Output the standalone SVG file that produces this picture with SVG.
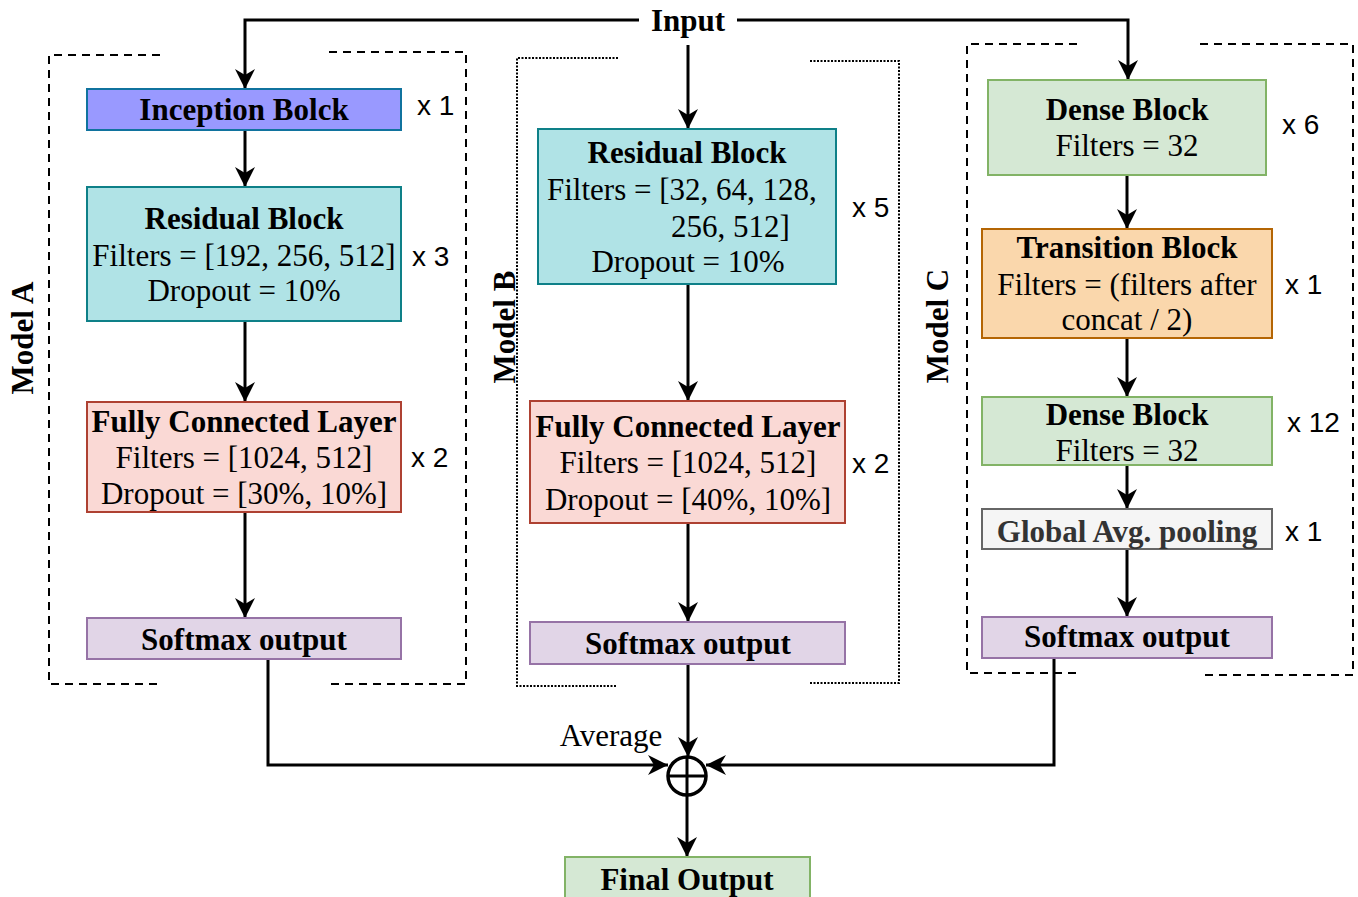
<svg xmlns="http://www.w3.org/2000/svg" width="1358" height="897" viewBox="0 0 1358 897">
<style>
.t{font-family:"Liberation Serif","Times New Roman",serif;font-size:31px;fill:#000;text-anchor:middle}
.s{text-anchor:start}
.b{font-weight:bold}
.x{font-family:"Liberation Sans",Arial,sans-serif;font-size:28px;fill:#000}
.box{stroke-width:2}
.ln{fill:none;stroke:#000;stroke-width:3}
.dash{fill:none;stroke:#000;stroke-width:2;stroke-dasharray:8 6}
.dot{fill:none;stroke:#000;stroke-width:2;stroke-dasharray:2 1.5}
.lbl{font-family:"Liberation Serif","Times New Roman",serif;font-size:31px;font-weight:bold;text-anchor:middle}
</style>
<defs>
<marker id="arr" viewBox="-21 -11 22 22" refX="0" refY="0" markerWidth="22" markerHeight="22" orient="auto" markerUnits="userSpaceOnUse">
<path d="M0,0 L-20,-10 L-14,0 L-20,10 Z" fill="#000"/>
</marker>
</defs>
<rect width="1358" height="897" fill="#fff"/>

<g id="containers">
<path class="dash" d="M160,55 H49 V684 H158 M329,52 H466 V684 H329"/>
<path class="dot" d="M618,58 H517 V686 H616 M810,61 H899 V683 H810"/>
<path class="dash" d="M1077,44 H967 V673 H1076 M1200,44 H1353 V675 H1200"/>
<text class="lbl" transform="translate(33,338) rotate(-90)">Model A</text>
<text class="lbl" transform="translate(515,327) rotate(-90)">Model B</text>
<text class="lbl" transform="translate(948,326) rotate(-90)">Model C</text>
</g>

<g id="connectors">
<path class="ln" d="M639,20 H245 V89" marker-end="url(#arr)"/>
<path class="ln" d="M737,20 H1128 V80" marker-end="url(#arr)"/>
<path class="ln" d="M688,45 V129" marker-end="url(#arr)"/>
<path class="ln" d="M245,130 V187" marker-end="url(#arr)"/>
<path class="ln" d="M245,321 V402" marker-end="url(#arr)"/>
<path class="ln" d="M245,512 V618" marker-end="url(#arr)"/>
<path class="ln" d="M688,284 V401" marker-end="url(#arr)"/>
<path class="ln" d="M688,523 V622" marker-end="url(#arr)"/>
<path class="ln" d="M1127,175 V229" marker-end="url(#arr)"/>
<path class="ln" d="M1127,338 V397" marker-end="url(#arr)"/>
<path class="ln" d="M1127,465 V509" marker-end="url(#arr)"/>
<path class="ln" d="M1127,549 V617" marker-end="url(#arr)"/>
<path class="ln" d="M268,659 V765 H668" marker-end="url(#arr)"/>
<path class="ln" d="M688,664 V757" marker-end="url(#arr)"/>
<path class="ln" d="M1054,658 V765 H706" marker-end="url(#arr)"/>
<path class="ln" d="M687,795 V857" marker-end="url(#arr)"/>
<text class="t" x="611" y="746">Average</text>
</g>

<g id="input"><text class="t b" x="688" y="31">Input</text></g>

<g id="inceptionA">
<rect class="box" x="87" y="89" width="314" height="41" fill="#9999ff" stroke="#10739e"/>
<text class="t b" x="244" y="120">Inception Bolck</text>
<text class="x" x="417" y="115">x 1</text>
</g>
<g id="residualA">
<rect class="box" x="87" y="187" width="314" height="134" fill="#b0e3e6" stroke="#0e8088"/>
<text class="t b" x="244" y="229">Residual Block</text>
<text class="t" x="244" y="266">Filters = [192, 256, 512]</text>
<text class="t" x="244" y="301">Dropout = 10%</text>
<text class="x" x="412" y="266">x 3</text>
</g>
<g id="fcA">
<rect class="box" x="87" y="402" width="314" height="110" fill="#fad9d5" stroke="#ae4132"/>
<text class="t b" x="244" y="432">Fully Connected Layer</text>
<text class="t" x="244" y="468">Filters = [1024, 512]</text>
<text class="t" x="244" y="504">Dropout = [30%, 10%]</text>
<text class="x" x="411" y="467">x 2</text>
</g>
<g id="softmaxA">
<rect class="box" x="87" y="618" width="314" height="41" fill="#e1d5e7" stroke="#9673a6"/>
<text class="t b" x="244" y="650">Softmax output</text>
</g>

<g id="residualB">
<rect class="box" x="538" y="129" width="298" height="155" fill="#b0e3e6" stroke="#0e8088"/>
<text class="t b" x="687" y="163">Residual Block</text>
<text class="t s" x="547" y="200">Filters = [32, 64, 128,</text>
<text class="t s" x="671" y="237">256, 512]</text>
<text class="t" x="688" y="272">Dropout = 10%</text>
<text class="x" x="852" y="217">x 5</text>
</g>
<g id="fcB">
<rect class="box" x="530" y="401" width="315" height="122" fill="#fad9d5" stroke="#ae4132"/>
<text class="t b" x="688" y="437">Fully Connected Layer</text>
<text class="t" x="688" y="473">Filters = [1024, 512]</text>
<text class="t" x="688" y="510">Dropout = [40%, 10%]</text>
<text class="x" x="852" y="473">x 2</text>
</g>
<g id="softmaxB">
<rect class="box" x="530" y="622" width="315" height="42" fill="#e1d5e7" stroke="#9673a6"/>
<text class="t b" x="688" y="654">Softmax output</text>
</g>

<g id="dense1">
<rect class="box" x="988" y="80" width="278" height="95" fill="#d5e8d4" stroke="#82b366"/>
<text class="t b" x="1127" y="120">Dense Block</text>
<text class="t" x="1127" y="156">Filters = 32</text>
<text class="x" x="1282" y="134">x 6</text>
</g>
<g id="transition">
<rect class="box" x="982" y="229" width="290" height="109" fill="#fad7ac" stroke="#b46504"/>
<text class="t b" x="1127" y="258">Transition Block</text>
<text class="t" x="1127" y="295">Filters = (filters after</text>
<text class="t" x="1127" y="330">concat / 2)</text>
<text class="x" x="1285" y="294">x 1</text>
</g>
<g id="dense2">
<rect class="box" x="982" y="397" width="290" height="68" fill="#d5e8d4" stroke="#82b366"/>
<text class="t b" x="1127" y="425">Dense Block</text>
<text class="t" x="1127" y="461">Filters = 32</text>
<text class="x" x="1287" y="432">x 12</text>
</g>
<g id="gap">
<rect class="box" x="982" y="509" width="290" height="40" fill="#f5f5f5" stroke="#666666"/>
<text class="t b" x="1127" y="542" style="fill:#333333">Global Avg. pooling</text>
<text class="x" x="1285" y="541">x 1</text>
</g>
<g id="softmaxC">
<rect class="box" x="982" y="617" width="290" height="41" fill="#e1d5e7" stroke="#9673a6"/>
<text class="t b" x="1127" y="647">Softmax output</text>
</g>

<g id="sum">
<circle cx="687" cy="776" r="19" fill="#fff" stroke="#000" stroke-width="3.5"/>
<path d="M687,757 V795 M668,776 H706" stroke="#000" stroke-width="3"/>
</g>

<g id="final">
<rect class="box" x="565" y="857" width="245" height="60" fill="#d5e8d4" stroke="#82b366"/>
<text class="t b" x="687" y="890">Final Output</text>
</g>
</svg>
